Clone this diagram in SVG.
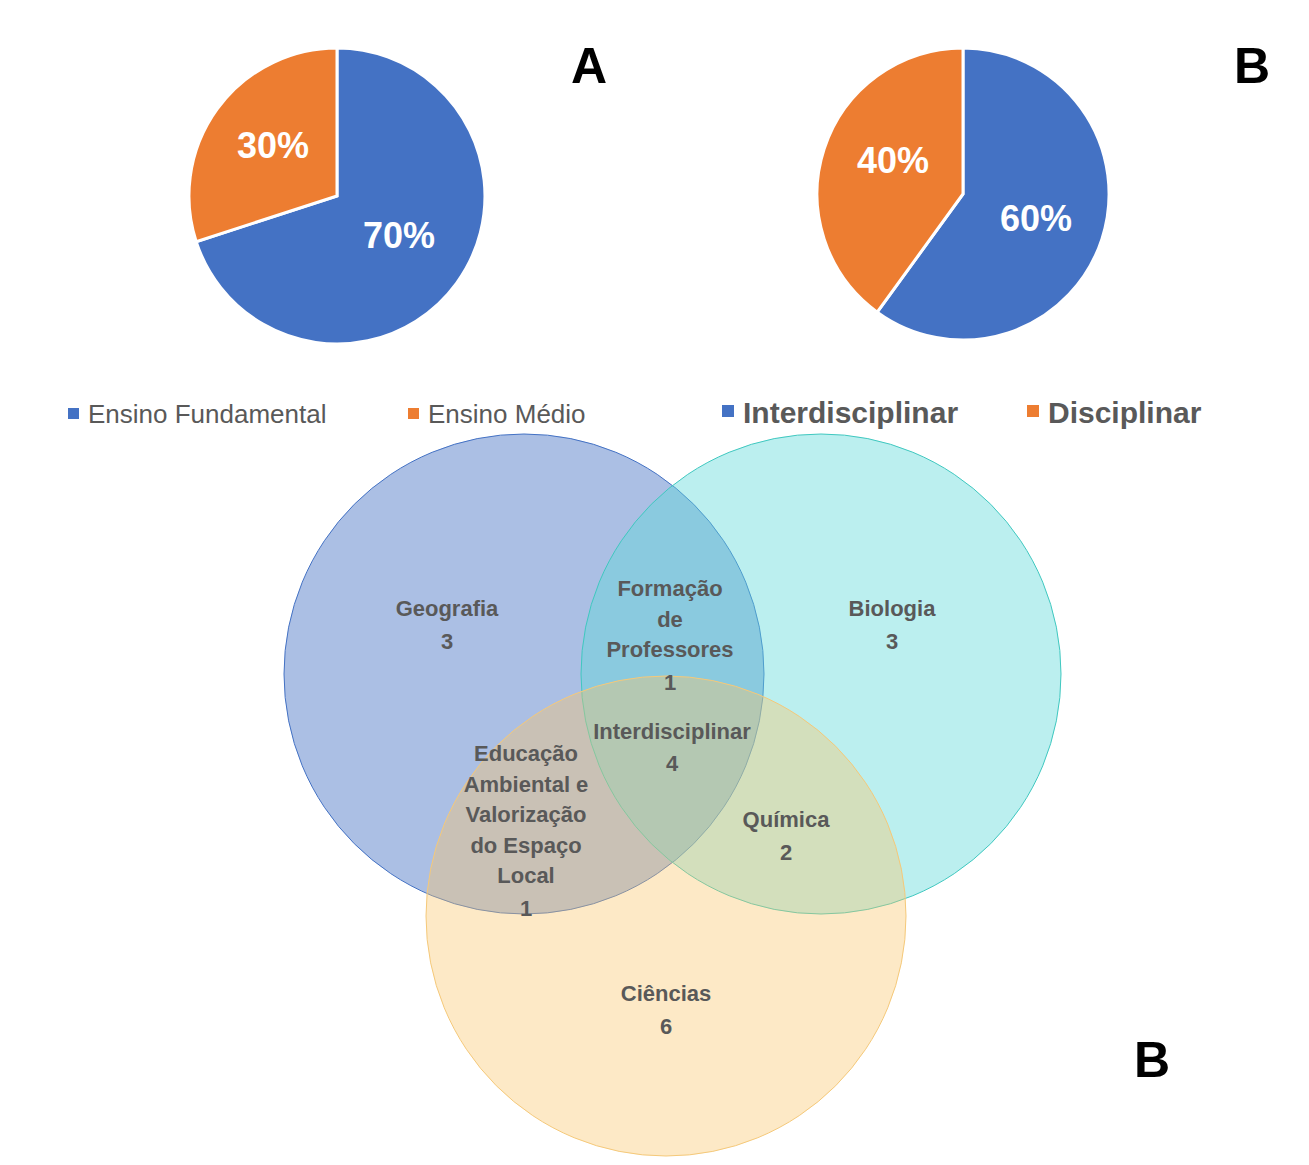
<svg xmlns="http://www.w3.org/2000/svg" width="1309" height="1165" viewBox="0 0 1309 1165">
<style>
text{font-family:"Liberation Sans",Arial,sans-serif;font-weight:bold}
.pl{fill:#fff;font-size:36px;text-anchor:middle}
.lg{fill:#595959;font-weight:normal}
.vl{fill:#595959;font-size:22px;text-anchor:middle}
.big{fill:#000;font-size:50px;text-anchor:middle}
</style>
<rect width="1309" height="1165" fill="#fff"/>
<g id="pieA" stroke="#fff" stroke-width="3">
<path d="M337,196 L337,48 A148,148 0 1 1 196.2,241.7 Z" fill="#4472C4"/>
<path d="M337,196 L196.2,241.7 A148,148 0 0 1 337,48 Z" fill="#ED7D31"/>
</g>
<text class="pl" x="273" y="158">30%</text>
<text class="pl" x="399" y="248">70%</text>
<g id="pieB" stroke="#fff" stroke-width="3">
<path d="M963,194 L963,48 A146,146 0 1 1 877.2,312.1 Z" fill="#4472C4"/>
<path d="M963,194 L877.2,312.1 A146,146 0 0 1 963,48 Z" fill="#ED7D31"/>
</g>
<text class="pl" x="893" y="173">40%</text>
<text class="pl" x="1036" y="231">60%</text>
<text class="big" x="589" y="83">A</text>
<text class="big" x="1252" y="83">B</text>
<text class="big" x="1152" y="1077">B</text>
<g id="legendA">
<rect x="68" y="408" width="11" height="11" fill="#4472C4"/>
<text class="lg" x="88" y="423" font-size="26">Ensino Fundamental</text>
<rect x="408" y="408" width="11" height="11" fill="#ED7D31"/>
<text class="lg" x="428" y="423" font-size="26">Ensino Médio</text>
</g>
<g id="legendB">
<rect x="722" y="405" width="12" height="12" fill="#4472C4"/>
<text class="lg" x="743" y="423" font-size="30" font-weight="bold" style="font-weight:bold">Interdisciplinar</text>
<rect x="1027" y="405" width="12" height="12" fill="#ED7D31"/>
<text class="lg" x="1048" y="423" font-size="30" style="font-weight:bold">Disciplinar</text>
</g>
<g id="venn">
<circle id="geo" cx="524" cy="674" r="240" fill="#4472C4" fill-opacity="0.45" stroke="#4472C4"/>
<circle id="bio" cx="821" cy="674" r="240" fill="#5CD9D9" fill-opacity="0.42" stroke="#40C8C0"/>
<circle id="cie" cx="666" cy="916" r="240" fill="#FBC56A" fill-opacity="0.38" stroke="#F5C97A"/>
</g>
<g id="labels">
<text class="vl" x="447" y="616">Geografia</text><text class="vl" x="447" y="649">3</text>
<text class="vl" x="892" y="616">Biologia</text><text class="vl" x="892" y="649">3</text>
<text class="vl" x="670" y="596">Formação</text><text class="vl" x="670" y="627">de</text><text class="vl" x="670" y="657">Professores</text><text class="vl" x="670" y="690">1</text>
<text class="vl" x="672" y="739">Interdisciplinar</text><text class="vl" x="672" y="771">4</text>
<text class="vl" x="526" y="761">Educação</text><text class="vl" x="526" y="792">Ambiental e</text><text class="vl" x="526" y="822">Valorização</text><text class="vl" x="526" y="853">do Espaço</text><text class="vl" x="526" y="883">Local</text><text class="vl" x="526" y="916">1</text>
<text class="vl" x="786" y="827">Química</text><text class="vl" x="786" y="860">2</text>
<text class="vl" x="666" y="1001">Ciências</text><text class="vl" x="666" y="1034">6</text>
</g>
</svg>
